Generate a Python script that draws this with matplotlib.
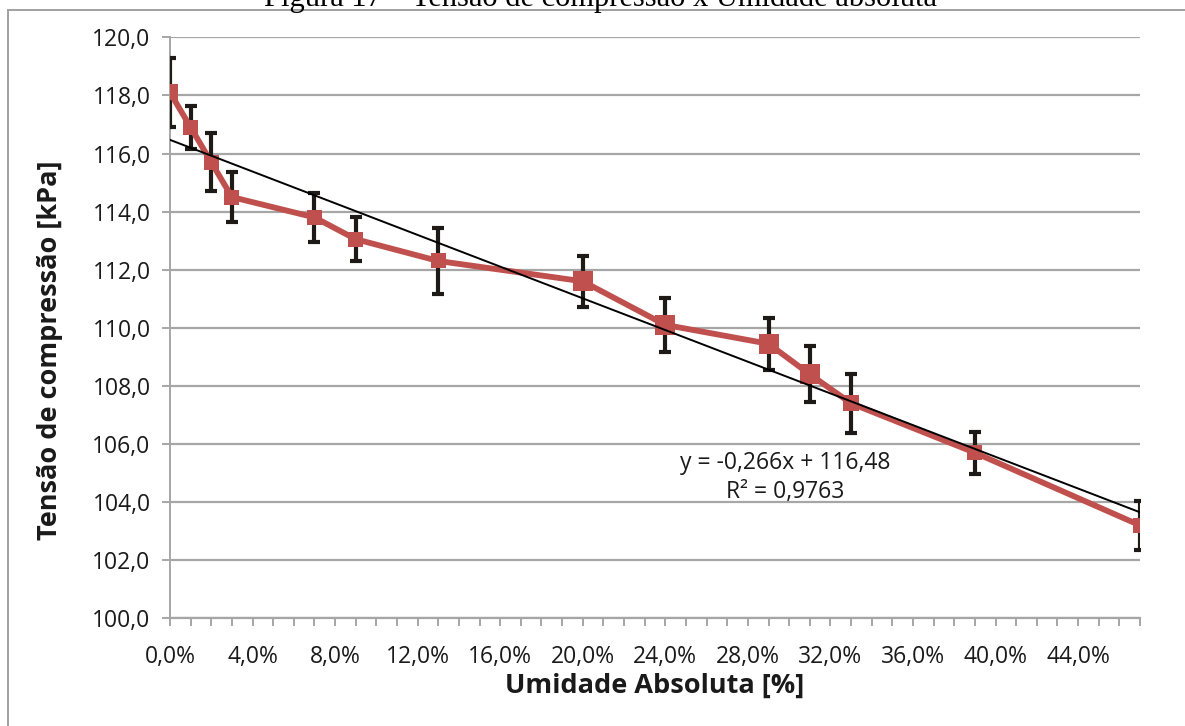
import numpy as np
import matplotlib
matplotlib.use("Agg")
import matplotlib.pyplot as plt
from matplotlib.ticker import MultipleLocator, FuncFormatter
from matplotlib.patches import Rectangle

# ----- Data -----
umidade = [0, 1, 2, 3, 7, 9, 13, 20, 24, 29, 31, 33, 39, 47]          # %
tensao = [118.1, 116.9, 115.7, 114.5, 113.8, 113.05, 112.3,
          111.6, 110.1, 109.45, 108.4, 107.4, 105.7, 103.2]             # kPa
erro = [1.2, 0.75, 1.0, 0.87, 0.84, 0.75, 1.15,
        0.88, 0.93, 0.9, 0.97, 1.02, 0.73, 0.84]                        # kPa

eq_text = "y = -0,266x + 116,48\nR² = 0,9763"
caption = "Figura 17 – Tensão de compressão x Umidade absoluta"

# marker side in pixels (some points are drawn bigger in the original)
marker_px = [16, 15, 15, 15, 15, 15, 15, 20, 20, 20, 20, 16, 15, 15]

# ----- Figure -----
plt.rcParams['font.family'] = ['Open Sans', 'DejaVu Sans']
fig = plt.figure(figsize=(11.85, 7.26), dpi=100)
ax = fig.add_axes([170 / 1185, 1 - 618.3 / 726, 970 / 1185, 581 / 726])

x = np.array(umidade)
y = np.array(tensao)

red = '#C0504D'
ax.errorbar(x, y, yerr=erro, fmt='none', ecolor='#1E1A18', elinewidth=3.0,
            capsize=4.5, capthick=3.0, zorder=3)
ax.plot(x, y, color=red, lw=4.2, zorder=4, solid_joinstyle='round')
sizes = (np.array(marker_px) * 72 / 100) ** 2
ax.scatter(x, y, s=sizes, marker='s', color=red, zorder=5, linewidths=0)

# linear trend line
coef = np.polyfit(x, y, 1)
xt = np.array([x.min(), x.max()])
ax.plot(xt, np.polyval(coef, xt), color='black', lw=1.4, zorder=6)

ax.text(29.8, 104.85, eq_text, ha='center', va='center',
        fontsize=16.5, color='#1a1a1a', linespacing=1.3, zorder=7)

# ----- Axes styling -----
ax.set_xlim(0, 47)
ax.set_ylim(100, 120)
ax.yaxis.set_major_locator(MultipleLocator(2))
ax.xaxis.set_major_locator(MultipleLocator(4))
ax.xaxis.set_minor_locator(MultipleLocator(1))
ax.yaxis.set_major_formatter(FuncFormatter(lambda v, p: f"{v:.1f}".replace('.', ',')))
ax.xaxis.set_major_formatter(FuncFormatter(lambda v, p: f"{v:.1f}%".replace('.', ',')))

grid_c = '#A6A6A6'
ax.grid(axis='y', color=grid_c, lw=1.6, zorder=0)
ax.set_axisbelow(True)
for s in ['top', 'right']:
    ax.spines[s].set_visible(False)
ax.spines['left'].set_color(grid_c)
ax.spines['bottom'].set_color(grid_c)
ax.spines['left'].set_linewidth(1.4)
ax.spines['bottom'].set_linewidth(1.6)
ax.tick_params(axis='y', which='major', direction='out', length=6, width=1.4,
               color=grid_c, labelsize=16.5, labelcolor='#1a1a1a', pad=8)
ax.tick_params(axis='x', which='both', direction='out', length=6, width=1.4,
               color=grid_c, labelsize=16.5, labelcolor='#1a1a1a', pad=13)

ax.set_xlabel("Umidade Absoluta [%]", fontsize=19.5, fontweight='bold',
              color='#1a1a1a')
ax.set_ylabel("Tensão de compressão [kPa]", fontsize=19.5, fontweight='bold',
              color='#1a1a1a')
ax.xaxis.set_label_coords(0.5, (618.3 - 673) / 581)
ax.yaxis.set_label_coords((63 - 170) / 970, (618.3 - 350) / 581)

# chart border and clipped caption from the source document
fig.patches.append(Rectangle((8 / 1185, -0.05), 1.1, 1 - 9.5 / 726 + 0.05,
                             transform=fig.transFigure, fill=False,
                             edgecolor='#A0A0A0', lw=1.4))
fig.text(0.507, 1 - 6 / 726, caption, ha='center', va='baseline',
         fontsize=22, family='Liberation Serif', color='black')

fig.savefig("out.png", dpi=100)
